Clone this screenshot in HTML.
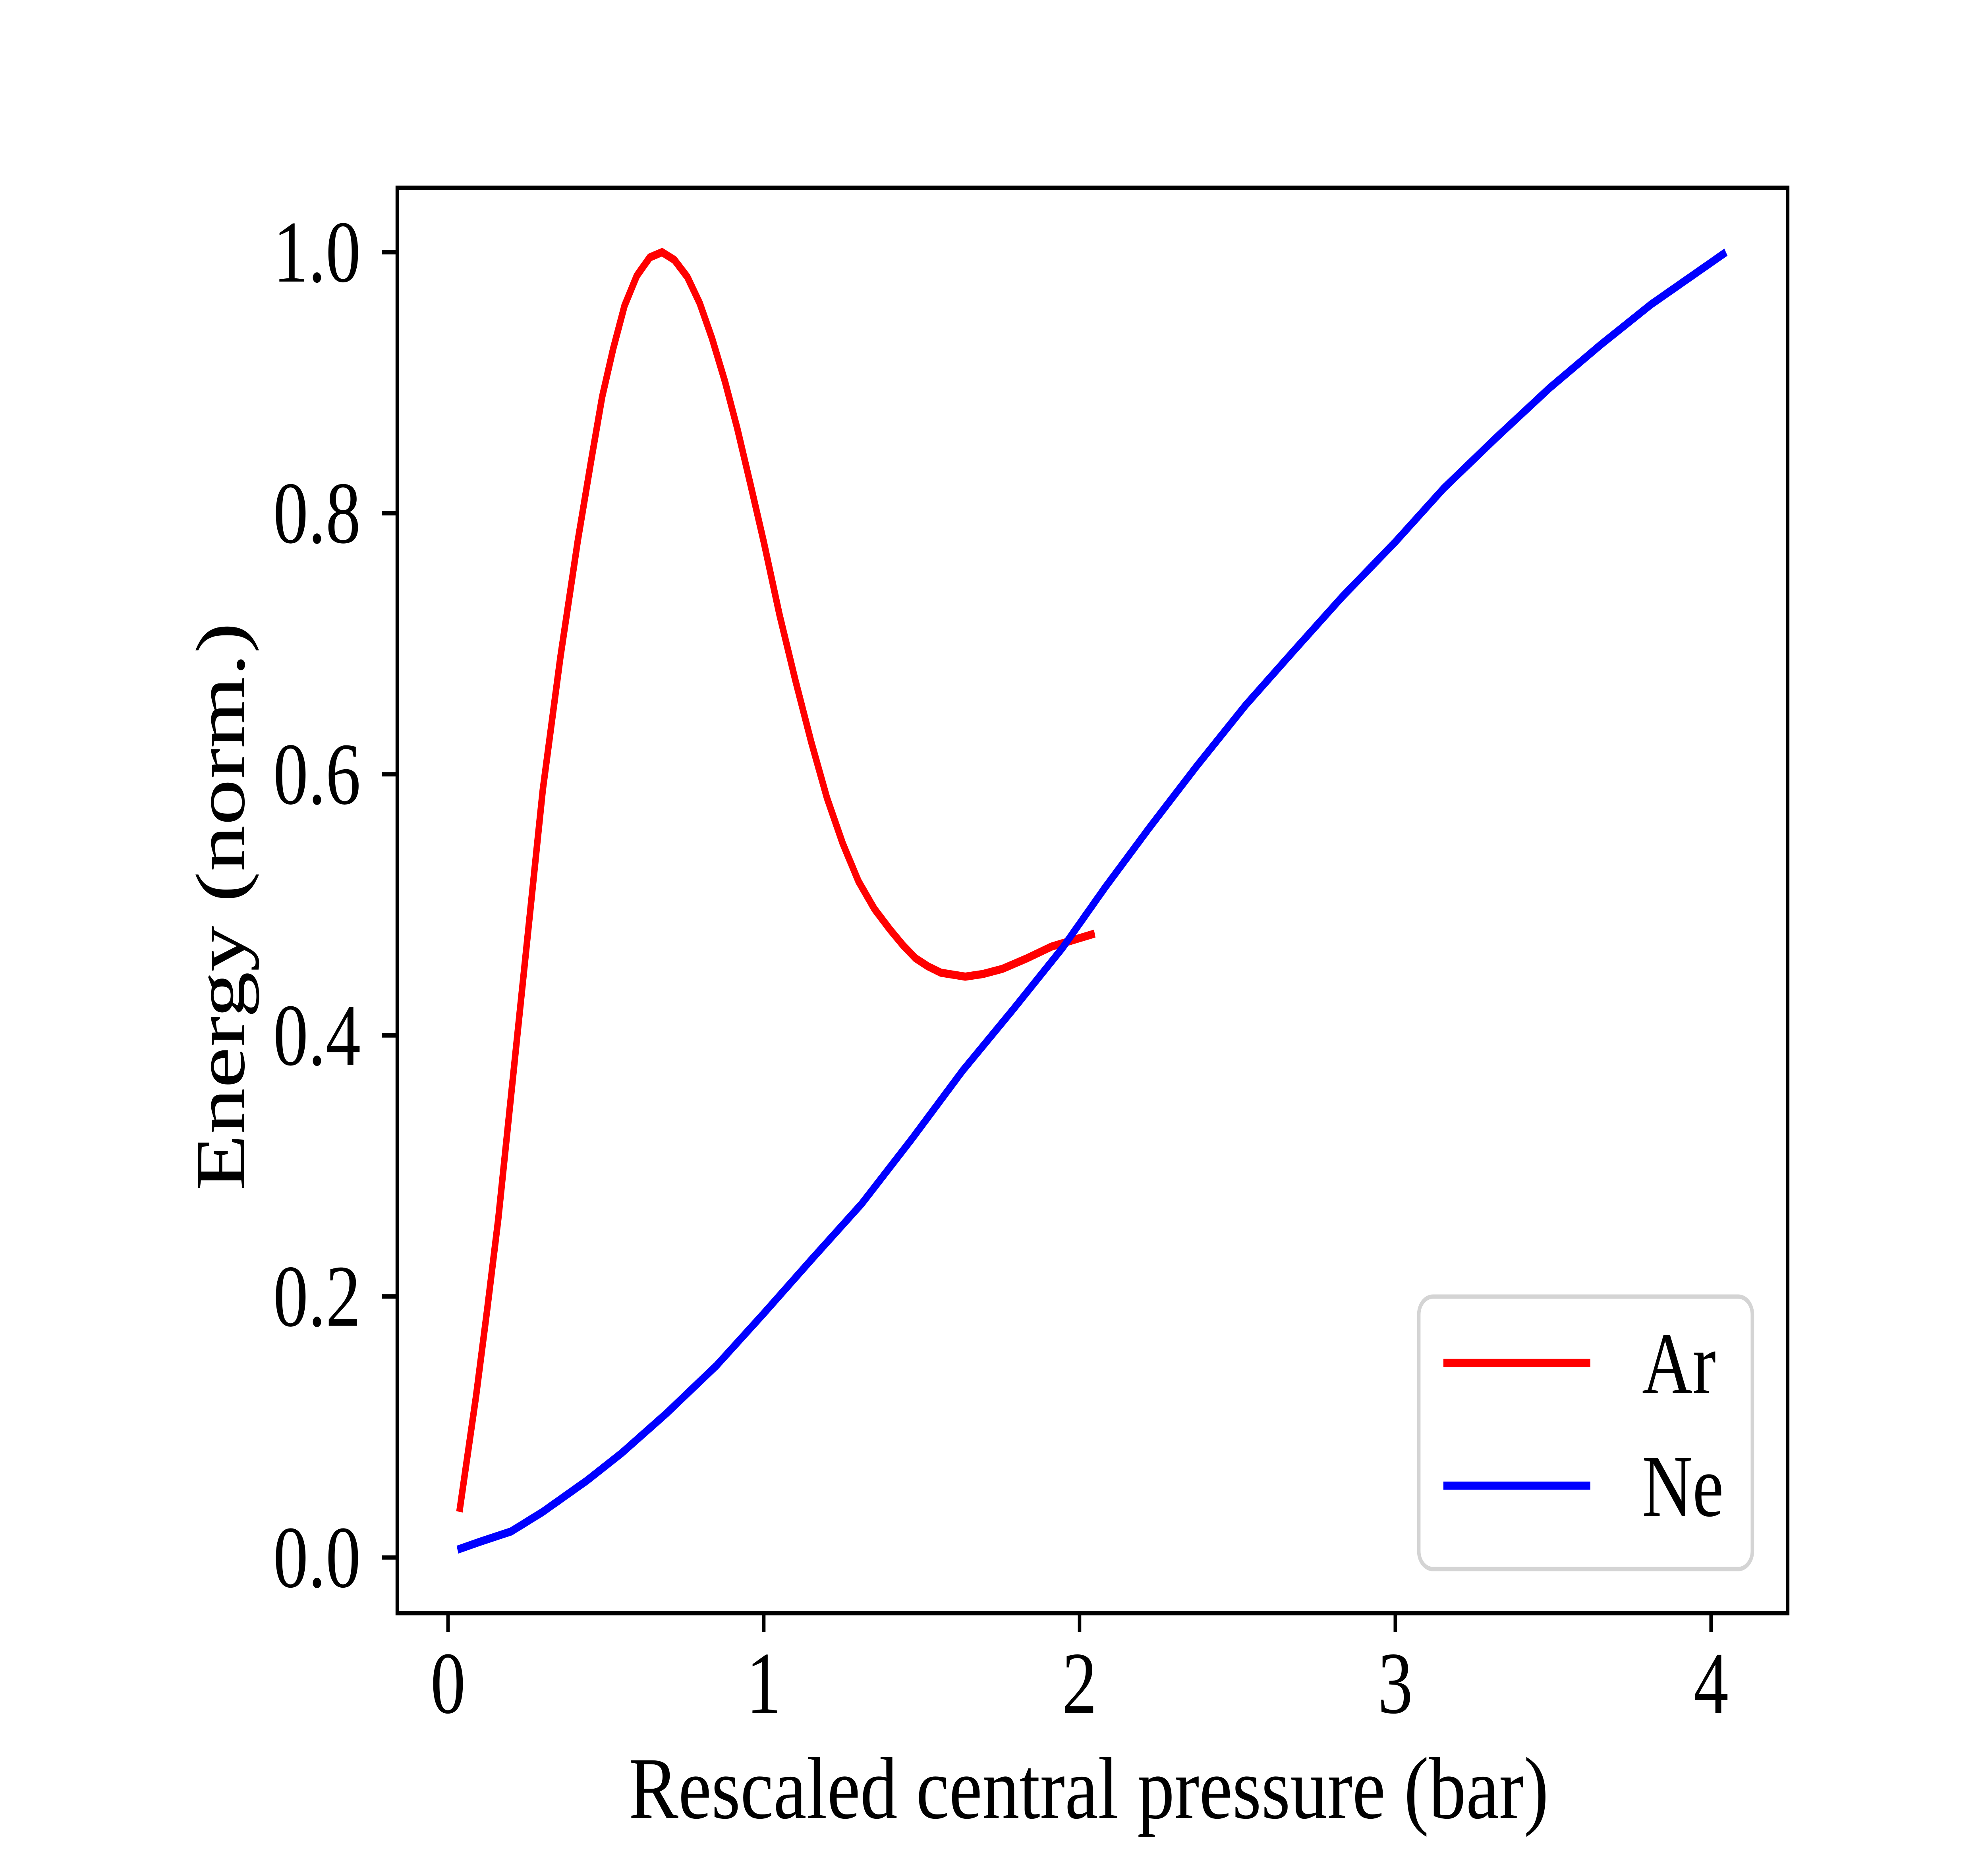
<!DOCTYPE html>
<html><head><meta charset="utf-8"><style>
html,body{margin:0;padding:0;background:#fff;overflow:hidden;width:100%;height:100%;}
svg{display:block;position:absolute;left:0;top:0;width:100vw;height:100vh;}
text{font-family:"Liberation Serif","DejaVu Serif",serif;fill:#000;}
</style></head><body>
<svg id="chart" viewBox="0 0 6299 4724" preserveAspectRatio="none" xmlns="http://www.w3.org/2000/svg">
<rect x="0" y="0" width="6299" height="4724" fill="#fff"/>
<g id="plot"></g>
</svg>
<script>
const xTicks = [0, 1, 2, 3, 4];
const xTickLabels = ["0", "1", "2", "3", "4"];
const yTicks = [0, 0.2, 0.4, 0.6, 0.8, 1.0];
const yTickLabels = ["0.0", "0.2", "0.4", "0.6", "0.8", "1.0"];
const arX = [0.036,0.089,0.124,0.159,0.201,0.243,0.30,0.356,0.411,0.453,0.488,0.523,0.559,0.598,0.639,0.678,0.717,0.758,0.797,0.836,0.877,0.916,0.958,1.0,1.05,1.1,1.15,1.2,1.25,1.3,1.35,1.4,1.441,1.481,1.519,1.561,1.638,1.694,1.756,1.833,1.911,2.048];
const arY = [0.035,0.124,0.190,0.259,0.357,0.455,0.588,0.690,0.779,0.840,0.889,0.926,0.959,0.982,0.996,1.0,0.994,0.981,0.961,0.934,0.901,0.865,0.822,0.778,0.722,0.672,0.625,0.582,0.547,0.518,0.497,0.481,0.469,0.459,0.453,0.448,0.445,0.447,0.451,0.459,0.468,0.478];
const neX = [0.030,0.1,0.2,0.3,0.44,0.55,0.69,0.85,1.0,1.15,1.31,1.47,1.63,1.79,1.946,2.08,2.221,2.37,2.526,2.68,2.832,3.0,3.153,3.32,3.489,3.65,3.81,4.047];
const neY = [0.006,0.012,0.020,0.035,0.059,0.080,0.110,0.147,0.187,0.228,0.271,0.321,0.373,0.420,0.467,0.513,0.559,0.606,0.653,0.695,0.736,0.778,0.819,0.858,0.896,0.929,0.960,1.0];

const AX = {left:1260, right:5670, top:473, bottom:4062};
function sx(v){ return 1421 + 1001.5*v; }
function sy(v){ return 3922 - 3287*v; }
const NS = "http://www.w3.org/2000/svg";
const g = document.getElementById('plot');
function mk(tag, attrs, parent){
  const e = document.createElementNS(NS, tag);
  for (const k in attrs) e.setAttribute(k, attrs[k]);
  (parent||g).appendChild(e);
  return e;
}
function series(xs, ys, color, name){
  const d = xs.map((x,i)=>(i?'L':'M')+sx(x).toFixed(1)+','+sy(ys[i]).toFixed(1)).join(' ');
  const p = mk('path', {d:d, fill:'none', stroke:color, 'stroke-width':20.5, 'stroke-linejoin':'round', 'stroke-linecap':'butt'});
  
  
}
series(arX, arY, '#ff0000', 'ar-line');
series(neX, neY, '#0000ff', 'ne-line');
const frame = mk('rect', {x:AX.left, y:AX.top, width:AX.right-AX.left, height:AX.bottom-AX.top, fill:'none', stroke:'#000', 'stroke-width':11});


xTicks.forEach((v,i)=>{
  const t = mk('line', {x1:sx(v), x2:sx(v), y1:AX.bottom, y2:AX.bottom+48, stroke:'#000', 'stroke-width':11});
  
  
  const l = mk('text', {x:sx(v), y:4313, 'font-size':222, 'text-anchor':'middle'});
  l.textContent = xTickLabels[i];
  
  
});
yTicks.forEach((v,i)=>{
  const t = mk('line', {x1:AX.left-48, x2:AX.left, y1:sy(v), y2:sy(v), stroke:'#000', 'stroke-width':11});
  
  
  const l = mk('text', {x:1144, y:sy(v)+74, 'font-size':222, 'text-anchor':'end'});
  l.textContent = yTickLabels[i];
  
  
});
const xt = mk('text', {x:3453, y:4578, 'font-size':222, 'text-anchor':'middle', textLength:2918, lengthAdjust:'spacingAndGlyphs'});
xt.textContent = 'Rescaled central pressure (bar)';


const yt = mk('text', {x:0, y:0, 'font-size':222, 'text-anchor':'middle', transform:'translate(774,2283) rotate(-90)', textLength:1431, lengthAdjust:'spacingAndGlyphs'});
yt.textContent = 'Energy (norm.)';


const lg = mk('g', {});


const lb = mk('rect', {x:4500, y:3265, width:1058, height:686, rx:45, ry:45, fill:'#fff', 'fill-opacity':0.8, stroke:'#d4d4d4', 'stroke-width':11}, lg);


[['ar','#ff0000','Ar',3432],['ne','#0000ff','Ne',3741]].forEach(e=>{
  const ln = mk('line', {x1:4578, x2:5044, y1:e[3], y2:e[3], stroke:e[1], 'stroke-width':20.5}, lg);
  
  
  const tx = mk('text', {x:5208, y:e[3]+76, 'font-size':222}, lg);
  tx.textContent = e[2];
  
  
});
</script>
</body></html>
